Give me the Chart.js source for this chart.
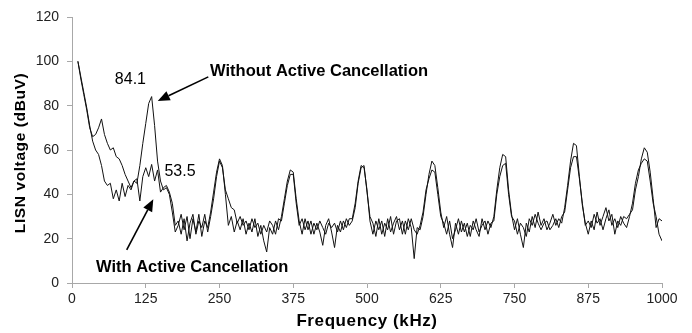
<!DOCTYPE html>
<html>
<head>
<meta charset="utf-8">
<script src="https://cdn.jsdelivr.net/npm/chart.js@4.4.1/dist/chart.umd.min.js"></script>
<style>
  html, body { margin: 0; padding: 0; background: #ffffff; }
  #wrap { width: 692px; height: 333px; position: relative; }
</style>
</head>
<body>
<div id="wrap"><canvas id="c" width="692" height="333"></canvas></div>
<script>
// Frequency samples (kHz)
const freq = [10,15,20,25,30,35,40,45,50,55,60,65,70,75,80,85,90,95,100,105,110,115,120,125,130,135,140,145,150,155,160,165,170,175,180,185,190,195,200,205,210,215,220,225,230,235,240,245,250,255,260,265,270,275,280,285,290,295,300,305,310,315,320,325,330,335,340,345,350,355,360,365,370,375,380,385,390,395,400,405,410,415,420,425,430,435,440,445,450,455,460,465,470,475,480,485,490,495,500,505,510,515,520,525,530,535,540,545,550,555,560,565,570,575,580,585,590,595,600,605,610,615,620,625,630,635,640,645,650,655,660,665,670,675,680,685,690,695,700,705,710,715,720,725,730,735,740,745,750,755,760,765,770,775,780,785,790,795,800,805,810,815,820,825,830,835,840,845,850,855,860,865,870,875,880,885,890,895,900,905,910,915,920,925,930,935,940,945,950,955,960,965,970,975,980,985,990,995,1000];

// LISN voltage (dBuV) without active cancellation
const withoutCancel = [100,92,85,78,70,66,67,70,74,67,63,60,61,57,56,53,49,46,43,46,45,53,63,72,81,84.1,71,55,46,42,43,40,32,23,26,31,24,30,20,29,23,31,21,28,25,32,41,50,56,53,40,26,30,23,28,24,29,22,27,23,29,21,26,19,14,25,22,28,24,30,38,46,51,50,38,28,22,29,24,28,22,27,23,17,26,29,23,16,26,23,28,25,29,29,36,46,53,52,42,28,22,28,24,28,21,29,23,27,30,24,28,22,29,25,11,25,24,30,40,49,55,53,43,32,25,30,22,16,27,22,28,23,27,21,28,24,21,29,24,28,25,30,42,52,58,57,42,31,24,29,22,16,27,23,30,25,32,26,29,24,27,31,26,29,27,34,44,55,63,62,48,35,27,22,28,24,32,26,30,34,28,31,22,28,26,30,29,31,33,42,48,56,61,59,50,38,25,29,28];

// LISN voltage (dBuV) with active cancellation
const withCancel = [100,93,86,79,71,64,60,58,53,46,44,45,38,42,37,45,39,44,42,46,47,37,48,52,48,53.5,46,51,41,43,44,41,36,26,28,22,29,19,27,31,22,28,25,31,23,30,38,48,55,52,42,38,34,33,27,30,26,28,24,29,25,27,22,26,23,28,26,22,29,28,36,44,49,49,36,26,29,24,28,22,27,24,28,25,22,27,25,27,23,28,24,29,26,28,34,45,52,53,41,30,27,21,29,22,27,24,30,22,28,29,22,28,24,29,24,22,26,32,42,47,51,50,40,30,27,22,28,20,24,29,23,27,21,26,24,29,23,26,28,22,27,28,40,48,53,54,40,30,28,22,27,25,21,29,26,31,27,24,27,28,24,26,29,25,30,32,42,52,57,57,47,36,26,28,25,31,27,29,24,29,33,26,29,25,30,27,25,30,36,45,51,54,56,55,46,36,30,22,19];

const xTicks = [0,125,250,375,500,625,750,875,1000];
const yTicks = [0,20,40,60,80,100,120];

const peakLabels = [
  { text: '84.1', f: 99, v: 91.6 },
  { text: '53.5', f: 183, v: 50.3 }
];
const seriesLabels = [
  { text: 'Without Active Cancellation', f: 234, v: 93.4 },
  { text: 'With Active Cancellation', f: 40.7, v: 5 }
];
const arrows = [
  { from: [231, 93], to: [145.3, 82.1] },
  { from: [92.7, 14.9], to: [137.8, 37.8] }
];

const FONT = '"Liberation Sans", Arial, Helvetica, sans-serif';

function pts(ys) { return freq.map((f, i) => ({ x: f, y: ys[i] })); }

const annot = {
  id: 'annot',
  afterDraw(chart) {
    const ctx = chart.ctx;
    const xs = chart.scales.x, ys = chart.scales.y;
    const px = f => xs.getPixelForValue(f);
    const py = v => ys.getPixelForValue(v);
    ctx.save();
    ctx.fillStyle = '#000';
    ctx.strokeStyle = '#000';
    ctx.font = '16px ' + FONT;
    ctx.textAlign = 'center';
    ctx.textBaseline = 'middle';
    peakLabels.forEach(l => ctx.fillText(l.text, px(l.f), py(l.v)));
    ctx.font = 'bold 16.5px ' + FONT;
    ctx.textAlign = 'left';
    ctx.textBaseline = 'alphabetic';
    seriesLabels.forEach(l => ctx.fillText(l.text, px(l.f), py(l.v)));
    arrows.forEach(a => {
      const x1 = px(a.from[0]), y1 = py(a.from[1]);
      const x2 = px(a.to[0]), y2 = py(a.to[1]);
      const ang = Math.atan2(y2 - y1, x2 - x1);
      const L = 12, W = 5;
      const bx = x2 - L * Math.cos(ang), by = y2 - L * Math.sin(ang);
      ctx.lineWidth = 1.6;
      ctx.beginPath(); ctx.moveTo(x1, y1); ctx.lineTo(bx, by); ctx.stroke();
      ctx.beginPath();
      ctx.moveTo(x2, y2);
      ctx.lineTo(bx + W * Math.sin(ang), by - W * Math.cos(ang));
      ctx.lineTo(bx - W * Math.sin(ang), by + W * Math.cos(ang));
      ctx.closePath(); ctx.fill();
    });
    ctx.letterSpacing = '0.6px';
    ctx.font = 'bold 17px ' + FONT;
    ctx.textAlign = 'center';
    ctx.textBaseline = 'middle';
    ctx.fillText('Frequency (kHz)', (chart.chartArea.left + chart.chartArea.right) / 2, 321);
    ctx.font = 'bold 15.5px ' + FONT;
    ctx.translate(21, (chart.chartArea.top + chart.chartArea.bottom) / 2 + 3);
    ctx.rotate(-Math.PI / 2);
    ctx.fillText('LISN voltage (dBuV)', 0, 0);
    ctx.restore();
  }
};

new Chart(document.getElementById('c'), {
  type: 'line',
  data: {
    datasets: [
      { label: 'Without Active Cancellation', data: pts(withoutCancel), borderColor: '#111', borderWidth: 1, pointRadius: 0, tension: 0, fill: false },
      { label: 'With Active Cancellation', data: pts(withCancel), borderColor: '#111', borderWidth: 1, pointRadius: 0, tension: 0, fill: false }
    ]
  },
  options: {
    responsive: false,
    devicePixelRatio: 1,
    animation: false,
    layout: { padding: { left: 0, right: 30, top: 17, bottom: 0 } },
    plugins: { legend: { display: false }, tooltip: { enabled: false } },
    scales: {
      x: {
        type: 'linear', min: 0, max: 1000,
        afterBuildTicks: s => { s.ticks = xTicks.map(v => ({ value: v })); },
        ticks: { color: '#222', font: { family: FONT, size: 14 }, padding: 3, maxRotation: 0, autoSkip: false, callback: v => String(v) },
        grid: { drawOnChartArea: false, drawTicks: true, tickLength: 5, color: '#a8a8a8' },
        border: { color: '#a8a8a8', width: 1 },
        afterFit: s => { s.height = 50; }
      },
      y: {
        type: 'linear', min: 0, max: 120,
        afterBuildTicks: s => { s.ticks = yTicks.map(v => ({ value: v })); },
        ticks: { color: '#222', font: { family: FONT, size: 14 }, padding: 8, callback: v => String(v) },
        grid: { drawOnChartArea: false, drawTicks: true, tickLength: 5, color: '#a8a8a8' },
        border: { color: '#a8a8a8', width: 1 },
        afterFit: s => { s.width = 72; }
      }
    }
  },
  plugins: [annot]
});
</script>
</body>
</html>
